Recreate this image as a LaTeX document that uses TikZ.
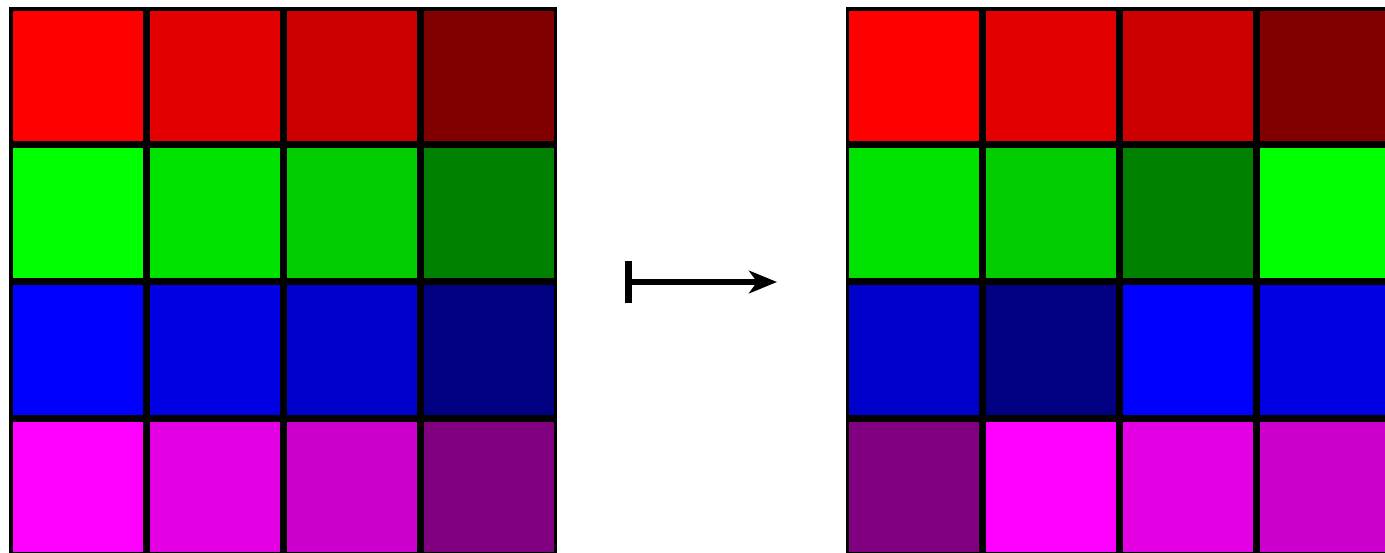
\documentclass[tikz,border=0pt]{standalone}
\usetikzlibrary{arrows.meta}
\tikzset{
  cell/.style={draw=black, line width=2.625pt, inner sep=0pt, outer sep=0pt,
    minimum size=100.125pt, fill=#1},
  maparrow/.style={line width=4.5pt, {Bar[width=32pt,line width=5pt]}-{Stealth[length=21pt,width=17pt,inset=6pt]}}
}
\definecolor{rA}{RGB}{255,0,0}\definecolor{rB}{RGB}{227,0,0}\definecolor{rC}{RGB}{204,0,0}\definecolor{rD}{RGB}{128,0,0}
\definecolor{gA}{RGB}{0,255,0}\definecolor{gB}{RGB}{0,227,0}\definecolor{gC}{RGB}{0,204,0}\definecolor{gD}{RGB}{0,128,0}
\definecolor{bA}{RGB}{0,0,255}\definecolor{bB}{RGB}{0,0,227}\definecolor{bC}{RGB}{0,0,204}\definecolor{bD}{RGB}{0,0,128}
\definecolor{mA}{RGB}{255,0,255}\definecolor{mB}{RGB}{227,0,227}\definecolor{mC}{RGB}{204,0,204}\definecolor{mD}{RGB}{128,0,128}
\begin{document}
\begin{tikzpicture}[x=0.75pt,y=-0.75pt]
\useasboundingbox (0,0) rectangle (1385,553);
\clip (0,0) rectangle (1385,553);
% left grid
\foreach \c [count=\i from 0] in {rA,rB,rC,rD}
  \node[cell=\c] (L0\i) at (77.5+137*\i, 75.5) {};
\foreach \c [count=\i from 0] in {gA,gB,gC,gD}
  \node[cell=\c] (L1\i) at (77.5+137*\i, 212.5) {};
\foreach \c [count=\i from 0] in {bA,bB,bC,bD}
  \node[cell=\c] (L2\i) at (77.5+137*\i, 349.5) {};
\foreach \c [count=\i from 0] in {mA,mB,mC,mD}
  \node[cell=\c] (L3\i) at (77.5+137*\i, 486.5) {};
% right grid
\foreach \c [count=\i from 0] in {rA,rB,rC,rD}
  \node[cell=\c] (R0\i) at (914.2+137*\i, 75.5) {};
\foreach \c [count=\i from 0] in {gB,gC,gD,gA}
  \node[cell=\c] (R1\i) at (914.2+137*\i, 212.5) {};
\foreach \c [count=\i from 0] in {bC,bD,bA,bB}
  \node[cell=\c] (R2\i) at (914.2+137*\i, 349.5) {};
\foreach \c [count=\i from 0] in {mD,mA,mB,mC}
  \node[cell=\c] (R3\i) at (914.2+137*\i, 486.5) {};
% arrow
\coordinate (s) at (625,282);
\coordinate (t) at (777,282);
\draw[maparrow] (s) -- (t);
\end{tikzpicture}
\end{document}
